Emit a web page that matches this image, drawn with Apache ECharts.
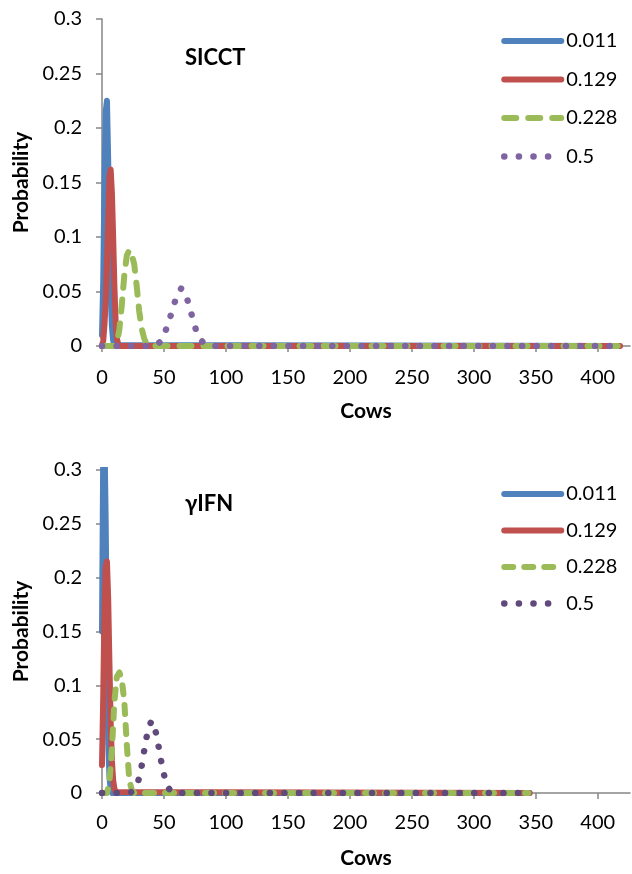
<!DOCTYPE html>
<html>
<head>
<meta charset="utf-8">
<script src="https://cdn.jsdelivr.net/npm/echarts@6/dist/echarts.min.js"></script>
<style>
    html, body {margin: 0; padding: 0; background: #fff;}
    .chart {width: 632px; height: 437px;}
</style>
</head>
<body>
<div id="top" class="chart"></div>
<div id="bottom" class="chart"></div>
<script>
// names of the series (prevalence)
let seriesNames = ['0.011', '0.129', '0.228', '0.5']
let xTicks = [0, 50, 100, 150, 200, 250, 300, 350, 400]

// SICCT, [cows, probability]
let sicctBlue = [[0, 0.01], [1, 0.06], [2, 0.15], [3, 0.215], [4, 0.225], [5, 0.17], [6, 0.1], [7, 0.05],
    [8, 0.018], [9, 0.005], [10, 0.001], [11, 0], [417, 0]]
let sicctRed = [[0, 0], [1, 0.005], [2, 0.02], [3, 0.04], [4, 0.075], [5, 0.115], [6, 0.155], [7, 0.162],
    [8, 0.14], [9, 0.1], [10, 0.055], [11, 0.022], [12, 0.007], [13, 0.002], [14, 0], [418, 0]]
let sicctGreen = [[0, 0], [10, 0], [12, 0.003], [14, 0.015], [16, 0.038], [18, 0.065], [20, 0.083], [22, 0.088],
    [24, 0.084], [26, 0.075], [28, 0.055], [30, 0.032], [32, 0.016], [34, 0.007], [36, 0.002], [38, 0], [416, 0]]
let sicctPurple = [[0, 0], [40, 0], [44, 0.001], [48, 0.005], [52, 0.016], [56, 0.03], [60, 0.045], [64, 0.053],
    [68, 0.046], [72, 0.03], [76, 0.014], [80, 0.005], [84, 0.001], [88, 0], [412, 0]]

// γIFN
let ifnBlue = [[0, 0.15], [1, 0.32], [2, 0.33], [3, 0.25], [4, 0.13], [5, 0.05], [6, 0.015], [7, 0.004],
    [8, 0], [345, 0]]
let ifnRed = [[0, 0.026], [1, 0.09], [2, 0.17], [3, 0.21], [4, 0.215], [5, 0.18], [6, 0.12], [7, 0.065],
    [8, 0.03], [9, 0.012], [10, 0.004], [11, 0.001], [12, 0], [345, 0]]
let ifnGreen = [[0, 0], [4, 0], [6, 0.01], [8, 0.04], [10, 0.085], [12, 0.108], [14, 0.112], [16, 0.105],
    [18, 0.085], [20, 0.045], [22, 0.012], [24, 0.003], [26, 0], [344, 0]]
let ifnPurple = [[0, 0], [20, 0], [24, 0.001], [28, 0.007], [30, 0.014], [32, 0.025], [34, 0.039], [36, 0.052],
    [38, 0.062], [40, 0.067], [42, 0.062], [44, 0.054], [46, 0.041], [48, 0.028], [50, 0.017], [52, 0.009],
    [54, 0.004], [56, 0.001], [60, 0], [336, 0]]

const FONT = 'Lato, "Open Sans", sans-serif'
const AXIS_COLOR = '#868686'

function styleOf(color, type, width) {
    return {color: color, width: width, type: type, cap: 'round', join: 'round'}
}

function buildOption(cfg) {
    let styles = [
        styleOf('#4F81BD', 'solid', 6),
        styleOf('#C0504D', 'solid', 6),
        styleOf('#9BBB59', cfg.greenDash, 6),
        styleOf(cfg.purple, [0.1, 14.5], 6.5),
    ]
    let series = cfg.data.map((data, i) => ({
        name: seriesNames[i],
        type: 'line',
        data: data,
        symbol: 'none',
        silent: true,
        lineStyle: styles[i],
        itemStyle: {color: styles[i].color},
    }))
    // legend: line only, no symbol
    let legendData = seriesNames.map((name, i) => ({
        name: name,
        itemStyle: {opacity: 0},
        lineStyle: styles[i],
    }))
    return {
        animation: false,
        title: {
            text: cfg.title, left: 180, top: cfg.titleTop,
            textStyle: {fontFamily: FONT, fontSize: 22, fontWeight: 'bold', color: '#000'},
        },
        legend: {
            orient: 'vertical', left: 501, top: cfg.legendTop, padding: 0,
            itemWidth: 57, itemHeight: 20, itemGap: cfg.legendGap,
            data: legendData,
            textStyle: {fontFamily: FONT, fontSize: 20, color: '#000'},
        },
        grid: {left: 102, top: cfg.gridTop, width: 528, height: cfg.gridHeight},
        xAxis: {
            type: 'value', min: 0, max: 426,
            name: 'Cows', nameLocation: 'middle', nameGap: cfg.nameGap,
            nameTextStyle: {fontFamily: FONT, fontSize: 21, fontWeight: 'bold', color: '#000'},
            axisLine: {lineStyle: {color: AXIS_COLOR, width: 1.5}},
            axisTick: {show: true, length: 6, customValues: xTicks, lineStyle: {color: AXIS_COLOR, width: 1.5}},
            axisLabel: {customValues: xTicks, margin: cfg.labelMargin, fontFamily: FONT, fontSize: 20, color: '#000'},
            splitLine: {show: false},
        },
        yAxis: {
            type: 'value', min: 0, max: 0.3, interval: 0.05,
            name: 'Probability', nameLocation: 'middle', nameGap: 68, nameRotate: 90,
            nameTextStyle: {fontFamily: FONT, fontSize: 21, fontWeight: 'bold', color: '#000'},
            axisLine: {show: true, lineStyle: {color: AXIS_COLOR, width: 1.5}},
            axisTick: {show: true, length: 6, lineStyle: {color: AXIS_COLOR, width: 1.5}},
            axisLabel: {margin: 20, fontFamily: FONT, fontSize: 20, color: '#000'},
            splitLine: {show: false},
        },
        series: series,
    }
}

let topChart = echarts.init(document.getElementById('top'))
topChart.setOption(buildOption({
    title: 'SICCT', titleTop: 42,
    legendTop: 31, legendGap: 18.5,
    gridTop: 19, gridHeight: 327,
    nameGap: 55, labelMargin: 22,
    greenDash: [12, 12], purple: '#8064A2',
    data: [sicctBlue, sicctRed, sicctGreen, sicctPurple],
}))

let bottomChart = echarts.init(document.getElementById('bottom'))
bottomChart.setOption(buildOption({
    title: 'γIFN', titleTop: 51,
    legendTop: 47, legendGap: 16.5,
    gridTop: 33, gridHeight: 329,
    nameGap: 55, labelMargin: 20,
    greenDash: [9, 11], purple: '#604A7B',
    data: [ifnBlue, ifnRed, ifnGreen, ifnPurple],
}))
</script>
</body>
</html>
